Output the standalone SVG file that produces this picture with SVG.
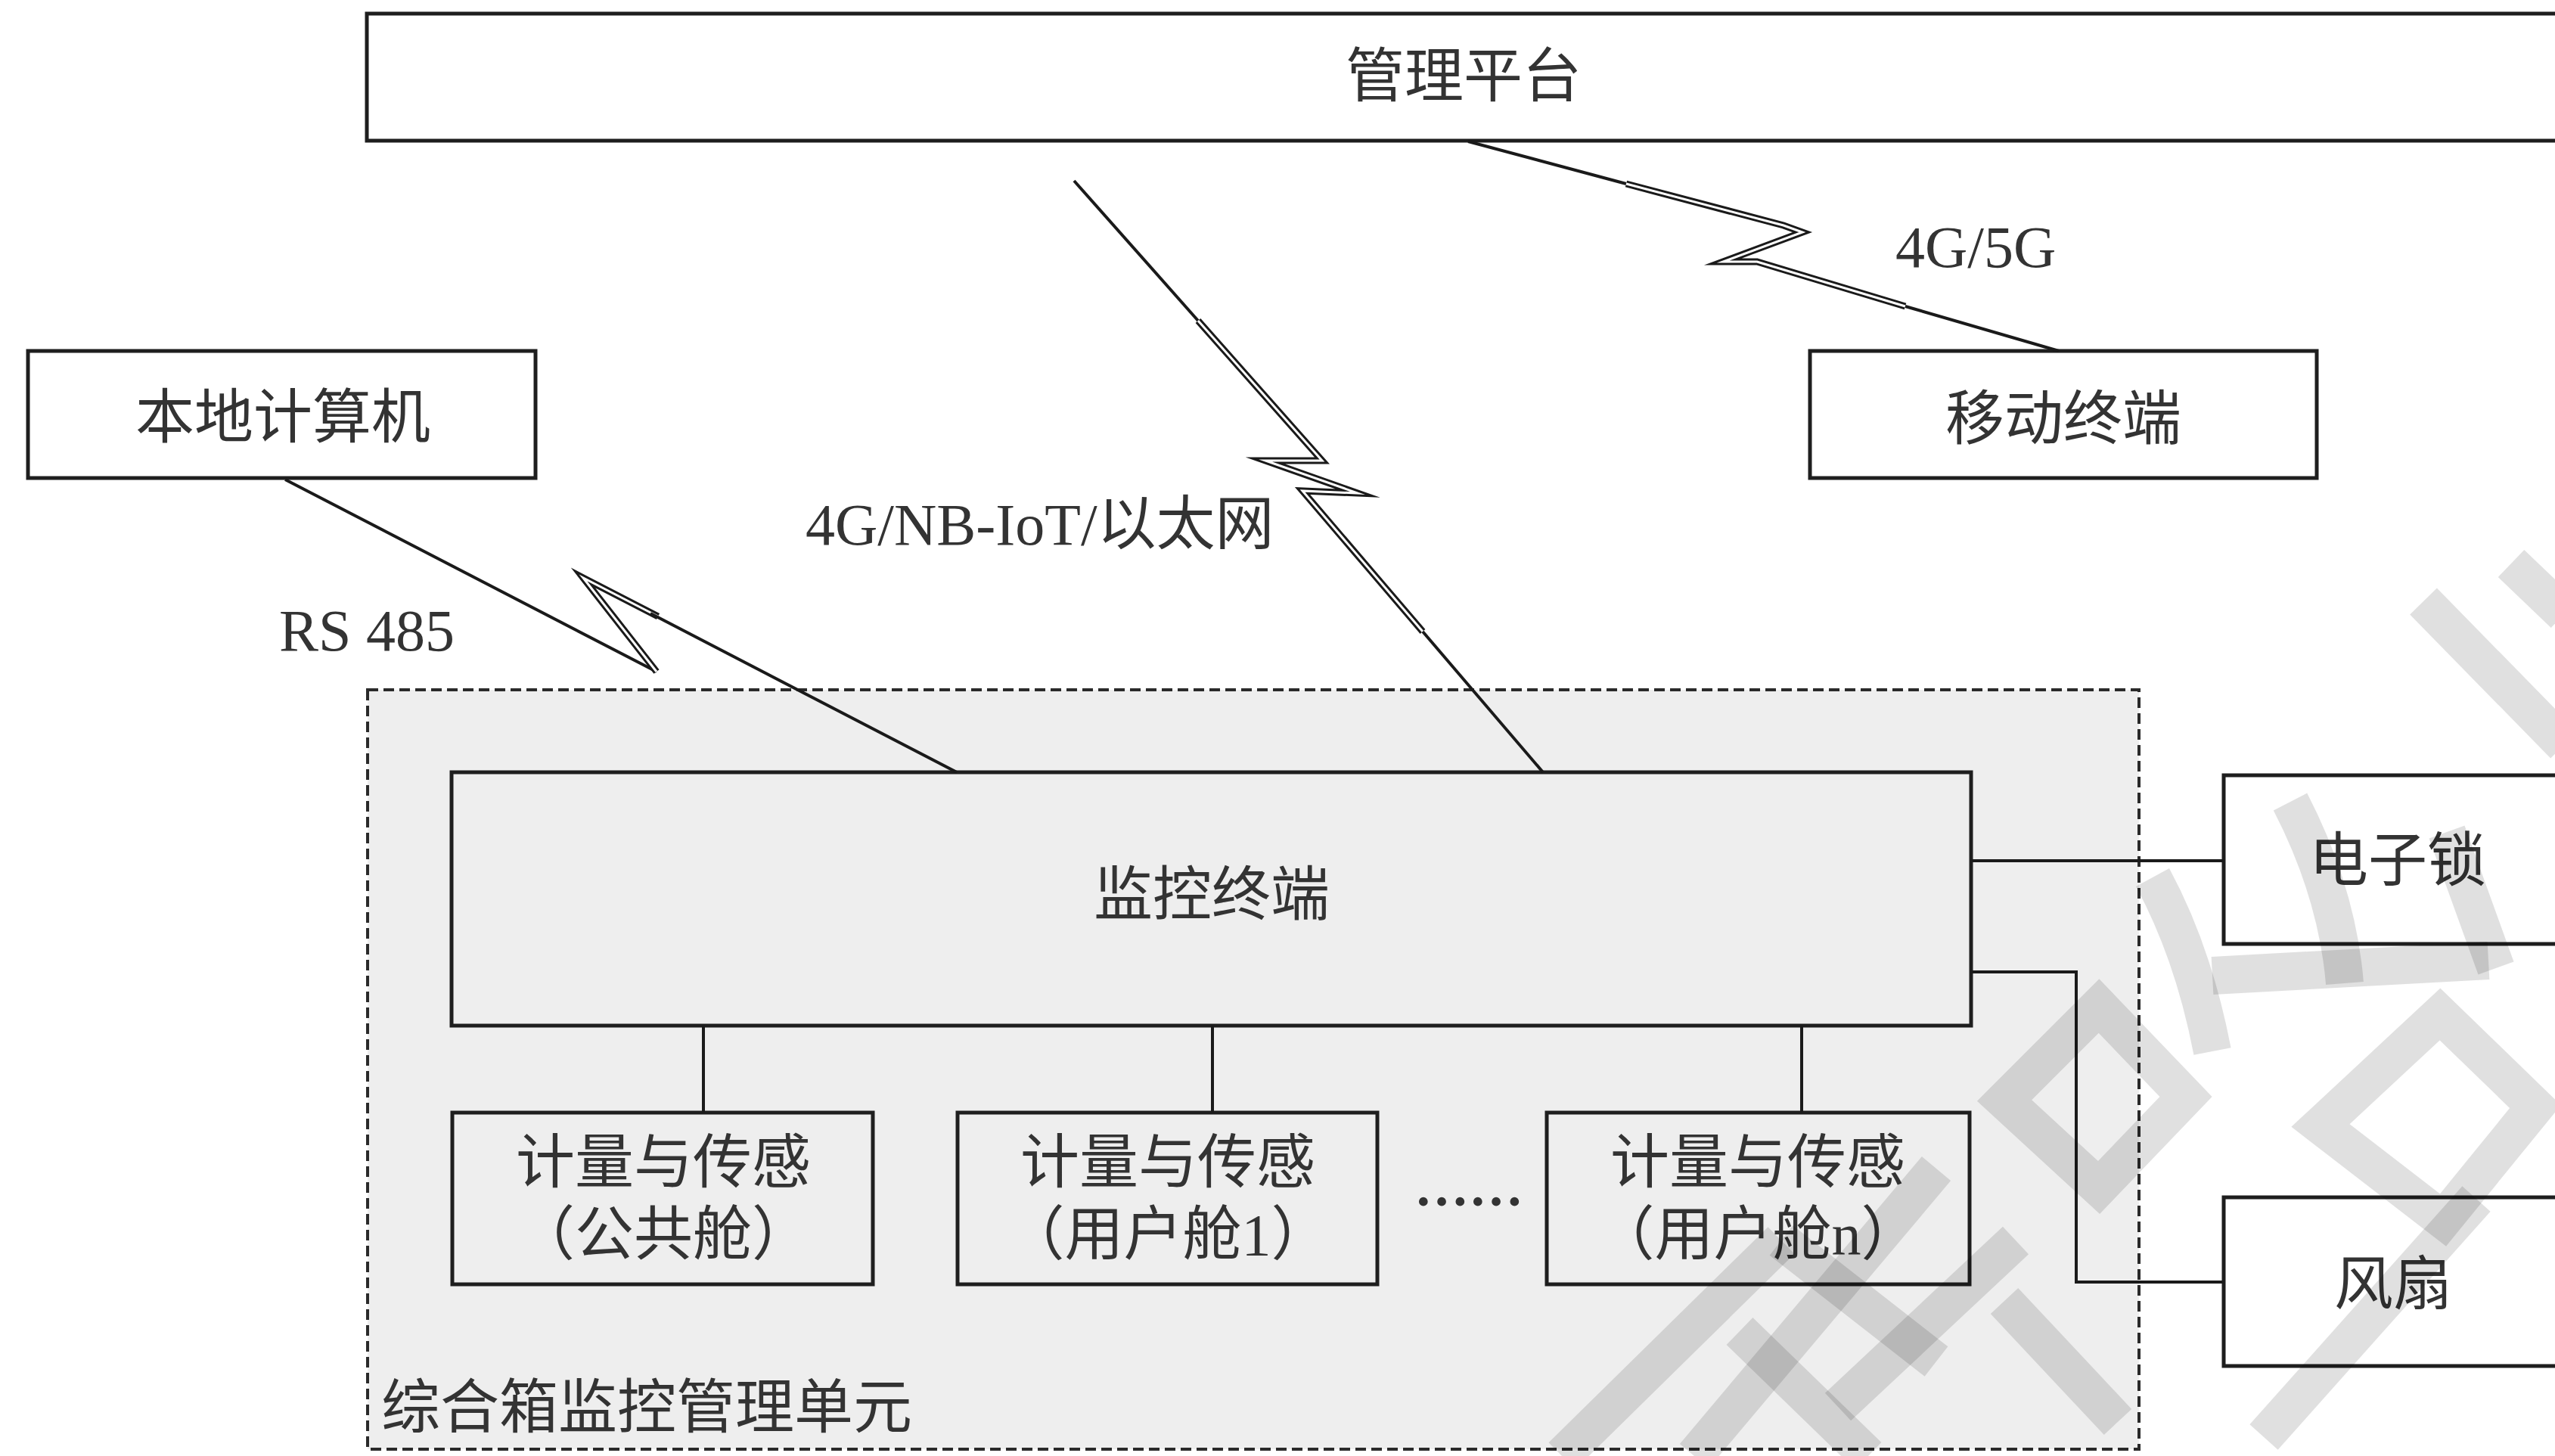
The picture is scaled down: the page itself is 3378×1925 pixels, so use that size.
<svg xmlns="http://www.w3.org/2000/svg" width="3378" height="1925" viewBox="0 0 3378 1925">
<style>
.box{fill:#fff;stroke:#1e1e1e;stroke-width:5}
.gbox{fill:#eeeeee;stroke:#1e1e1e;stroke-width:5}
.outer{fill:#eeeeee;stroke:#2a2a2a;stroke-width:4;stroke-dasharray:14 7}
.wire{fill:none;stroke:#1a1a1a;stroke-width:4}
.dblo{fill:none;stroke:#1a1a1a;stroke-width:9;stroke-linejoin:miter;stroke-miterlimit:10}
.dbli{fill:none;stroke:#ffffff;stroke-width:3;stroke-linejoin:miter;stroke-miterlimit:10}
.zh{font-family:"Liberation Serif","Noto Sans CJK SC",serif;font-size:78px;fill:#333;text-anchor:middle;dominant-baseline:central}
.lat{font-family:"Liberation Serif","Noto Sans CJK SC",serif;font-size:78px;fill:#333}
.wm{fill:none;stroke:#000;stroke-opacity:0.12;stroke-width:50;stroke-linejoin:miter}
</style>
<rect width="3378" height="1925" fill="#ffffff"/>

<g id="unit">
<rect class="outer" x="486" y="912" width="2342" height="1004"/>
<text class="lat" x="504" y="1888">综合箱监控管理单元</text>
</g>

<g id="platform">
<rect class="box" x="485" y="18" width="2950" height="168"/>
<text class="zh" x="1935" y="101">管理平台</text>
</g>

<g id="local-pc">
<rect class="box" x="37" y="464" width="671" height="168"/>
<text class="zh" x="374" y="552">本地计算机</text>
</g>

<g id="mobile">
<rect class="box" x="2393" y="464" width="670" height="168"/>
<text class="zh" x="2728" y="554">移动终端</text>
</g>

<g id="monitor">
<rect class="gbox" x="597" y="1021" width="2009" height="335"/>
<text class="zh" x="1602" y="1183">监控终端</text>
</g>

<g id="sensor-public">
<rect class="gbox" x="598" y="1471" width="556" height="227"/>
<text class="zh" x="877" y="1537">计量与传感</text>
<text class="zh" x="877" y="1632">（公共舱）</text>
</g>

<g id="sensor-user1">
<rect class="gbox" x="1266" y="1471" width="555" height="227"/>
<text class="zh" x="1544" y="1537">计量与传感</text>
<text class="zh" x="1544" y="1632">（用户舱1）</text>
</g>

<g id="ellipsis">
<text class="lat" x="1942" y="1594" text-anchor="middle" style="font-size:72px;font-weight:bold">……</text>
</g>

<g id="sensor-usern">
<rect class="gbox" x="2045" y="1471" width="559" height="227"/>
<text class="zh" x="2324" y="1537">计量与传感</text>
<text class="zh" x="2324" y="1632">（用户舱n）</text>
</g>

<g id="lock">
<rect class="box" x="2940" y="1025" width="480" height="223"/>
<text class="zh" x="3170" y="1138">电子锁</text>
</g>

<g id="fan">
<rect class="box" x="2940" y="1583" width="480" height="223"/>
<text class="zh" x="3164" y="1698">风扇</text>
</g>

<g id="connectors">
<path class="wire" d="M377,634 L868,888"/>
<path class="dblo" d="M868,888 L771,764 L870,815"/>
<path class="dbli" d="M868,888 L771,764 L870,815"/>
<path class="wire" d="M860,811 L1265,1021"/>
<path class="wire" d="M1420,239 L1584,424"/>
<path class="dblo" d="M1584,424 L1748,609 L1673,609 L1795,652 L1722,649 L1881,835"/>
<path class="dbli" d="M1584,424 L1748,609 L1673,609 L1795,652 L1722,649 L1881,835"/>
<path class="wire" d="M1881,835 L2040,1021"/>
<path class="wire" d="M1941,187 L2150,243"/>
<path class="dblo" d="M2150,243 L2358,298 L2383,307 L2278,346 L2323,346 L2519,405"/>
<path class="dbli" d="M2150,243 L2358,298 L2383,307 L2278,346 L2323,346 L2519,405"/>
<path class="wire" d="M2519,405 L2722,464"/>
<path class="wire" d="M930,1356 V1471 M1603,1356 V1471 M2382,1356 V1471"/>
<path class="wire" d="M2606,1138 H2940"/>
<path class="wire" d="M2606,1285 H2745 V1695 H2940"/>
</g>

<g id="labels">
<text class="lat" x="369" y="860">RS 485</text>
<text class="lat" x="1065" y="720">4G/NB-IoT/以太网</text>
<text class="lat" x="2506" y="353">4G/5G</text>
</g>

<g id="watermark">
<path class="wm" d="M3204,795 L3390,985"/>
<path class="wm" d="M3320,745 L3390,812"/>
<path class="wm" d="M2846,1160 Q2900,1260 2925,1390"/>
<path class="wm" d="M3028,1060 Q3090,1180 3100,1300"/>
<path class="wm" d="M2925,1290 L3290,1270"/>
<path class="wm" d="M3235,1100 L3300,1280"/>
<path class="wm" d="M2650,1455 L2775,1330 L2890,1450 L2775,1570 Z"/>
<path class="wm" d="M3068,1488 L3226,1341 L3352,1463 L3230,1613 Z"/>
<path class="wm" d="M3274,1585 L2993,1900"/>
<path class="wm" d="M2065,1925 L2355,1640"/>
<path class="wm" d="M2240,1925 L2560,1545"/>
<path class="wm" d="M2430,1860 L2665,1640"/>
<path class="wm" d="M2355,1640 L2560,1800"/>
<path class="wm" d="M2300,1760 L2470,1925"/>
<path class="wm" d="M2650,1720 L2800,1880"/>
</g>
</svg>
